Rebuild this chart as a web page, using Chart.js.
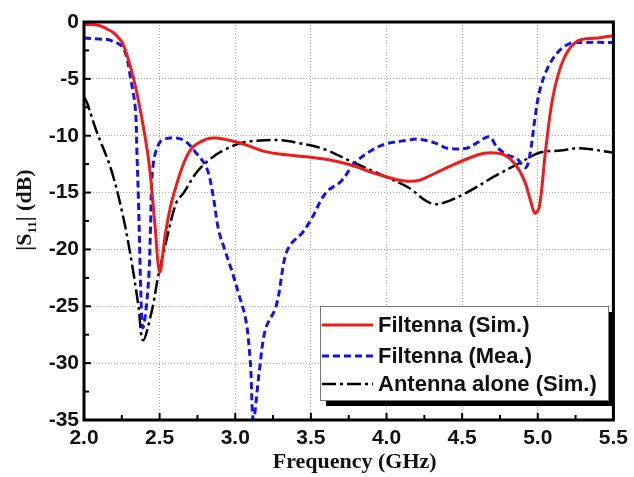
<!DOCTYPE html>
<html lang="en">
<head>
<meta charset="UTF-8">
<title>Filtenna |S11|</title>
<script src="https://cdn.jsdelivr.net/npm/chart.js"></script>
<style>
  html, body { margin: 0; padding: 0; background: #fff; }
  #wrap { width: 634px; height: 477px; }
</style>
</head>
<body>
<div id="wrap"><canvas id="s11Chart" width="634" height="477"></canvas></div>
<script>
// frequency (GHz) / |S11| (dB) samples for each curve
const simFreq = [2.0, 2.1, 2.15, 2.2, 2.26, 2.33, 2.38, 2.43, 2.47, 2.5, 2.54, 2.58, 2.66, 2.72, 2.81, 2.87,
  2.96, 3.07, 3.2, 3.35, 3.5, 3.65, 3.77, 3.92, 4.05, 4.14, 4.22, 4.4, 4.6, 4.69, 4.78, 4.85, 4.91, 4.95,
  4.98, 5.01, 5.05, 5.1, 5.17, 5.26, 5.4, 5.5];
const simS11 = [-0.2, -0.3, -0.6, -1.0, -2.0, -5.1, -8.3, -12.4, -18.0, -22.0, -18.5, -15.8, -12.4, -11.0, -10.3, -10.2,
  -10.4, -10.8, -11.4, -11.7, -11.9, -12.2, -12.6, -13.3, -13.8, -14.0, -13.9, -12.8, -11.7, -11.5, -11.7, -12.5, -13.9, -15.6,
  -16.8, -16.3, -11.5, -6.6, -3.3, -1.7, -1.4, -1.2];

const meaFreq = [2.0, 2.1, 2.17, 2.26, 2.31, 2.34, 2.35, 2.36, 2.38, 2.39, 2.41, 2.43, 2.44, 2.455, 2.5, 2.57,
  2.66, 2.74, 2.81, 2.85, 2.89, 2.93, 2.98, 3.02, 3.07, 3.1, 3.12, 3.16, 3.2, 3.27, 3.33, 3.37, 3.44, 3.5, 3.6,
  3.7, 3.79, 3.9, 4.0, 4.14, 4.2, 4.29, 4.35, 4.4, 4.53, 4.6, 4.68, 4.73, 4.8, 4.86, 4.92, 4.95, 4.98,
  5.01, 5.06, 5.13, 5.21, 5.3, 5.5];
const meaS11 = [-1.4, -1.5, -1.6, -2.3, -5.1, -7.7, -11.5, -15.7, -25.6, -26.9, -25.3, -22.0, -18.0, -12.8, -10.6, -10.2,
  -10.4, -11.5, -12.8, -15.0, -18.3, -20.0, -22.0, -23.8, -26.2, -30.0, -35.0, -30.6, -27.0, -25.0, -20.6, -19.5, -18.6, -17.4, -15.0,
  -14.0, -12.4, -11.3, -10.7, -10.4, -10.3, -10.5, -10.8, -11.1, -11.1, -10.6, -10.1, -11.0, -11.7, -12.0, -12.8, -11.5, -8.6,
  -6.2, -4.2, -2.7, -1.9, -1.8, -1.8];

const antFreq = [2.0, 2.02, 2.08, 2.18, 2.26, 2.32, 2.36, 2.39, 2.45, 2.49, 2.55, 2.61, 2.66, 2.74, 2.83, 2.92,
  3.05, 3.2, 3.3, 3.4, 3.57, 3.79, 4.01, 4.15, 4.27, 4.35, 4.53, 4.71, 4.88, 5.01, 5.15, 5.28, 5.5];
const antS11 = [-6.6, -7.1, -9.5, -13.0, -17.2, -21.5, -25.0, -28.0, -25.3, -22.4, -18.9, -15.9, -15.0, -13.3, -12.1, -11.3,
  -10.6, -10.4, -10.4, -10.6, -11.1, -12.4, -13.7, -14.6, -15.8, -16.0, -15.0, -13.6, -12.4, -11.5, -11.3, -11.1, -11.5];

const seriesNames = ['Filtenna (Sim.)', 'Filtenna (Mea.)', 'Antenna alone (Sim.)'];
const xTicks = [2.0, 2.5, 3.0, 3.5, 4.0, 4.5, 5.0, 5.5];
const yTicks = [0, -5, -10, -15, -20, -25, -30, -35];

const SANS = '"Liberation Sans", Arial, sans-serif';
const SERIF = '"Liberation Serif", "Times New Roman", serif';

const toPoints = (xs, ys) => xs.map((f, i) => ({ x: f, y: ys[i] }));

const styles = [
  { color: '#ee1c1c', width: 3, dash: [] },
  { color: '#1414e6', width: 3, dash: [7, 4] },
  { color: '#000000', width: 2.5, dash: [14, 4, 3, 4] }
];

// frame, inward ticks, axis titles and the boxed legend
const decorations = {
  id: 'decorations',
  afterDraw(chart) {
    const { ctx, chartArea: a, scales: { x, y } } = chart;
    ctx.save();

    ctx.strokeStyle = '#000';
    ctx.lineWidth = 2;
    ctx.setLineDash([]);
    for (let i = 0; i < xTicks.length; i++) {
      const px = x.getPixelForValue(xTicks[i]);
      ctx.beginPath(); ctx.moveTo(px, a.bottom); ctx.lineTo(px, a.bottom - 7); ctx.stroke();
      if (i < xTicks.length - 1) {
        const mx = x.getPixelForValue((xTicks[i] + xTicks[i + 1]) / 2);
        ctx.beginPath(); ctx.moveTo(mx, a.bottom); ctx.lineTo(mx, a.bottom - 5); ctx.stroke();
      }
    }
    for (let i = 0; i < yTicks.length; i++) {
      const py = y.getPixelForValue(yTicks[i]);
      ctx.beginPath(); ctx.moveTo(a.left, py); ctx.lineTo(a.left + 7, py); ctx.stroke();
      if (i < yTicks.length - 1) {
        const my = y.getPixelForValue((yTicks[i] + yTicks[i + 1]) / 2);
        ctx.beginPath(); ctx.moveTo(a.left, my); ctx.lineTo(a.left + 5, my); ctx.stroke();
      }
    }

    ctx.lineWidth = 3;
    ctx.strokeRect(a.left, a.top, a.right - a.left, a.bottom - a.top);

    // x title
    ctx.fillStyle = '#111';
    ctx.font = 'bold 22px ' + SERIF;
    ctx.textAlign = 'center';
    ctx.textBaseline = 'alphabetic';
    ctx.fillText('Frequency (GHz)', (a.left + a.right) / 2 + 6, 468);

    // y title with subscript, rotated
    ctx.save();
    ctx.translate(31, 210);
    ctx.rotate(-Math.PI / 2);
    ctx.textAlign = 'left';
    const big = 'bold 22px ' + SERIF, small = 'bold 13px ' + SERIF;
    ctx.font = big; const w1 = ctx.measureText('|S').width;
    ctx.font = small; const w2 = ctx.measureText('11').width;
    ctx.font = big; const w3 = ctx.measureText('| (dB)').width;
    let cx = -(w1 + w2 + w3) / 2;
    ctx.font = big; ctx.fillText('|S', cx, 0); cx += w1;
    ctx.font = small; ctx.fillText('11', cx, 5); cx += w2;
    ctx.font = big; ctx.fillText('| (dB)', cx, 0);
    ctx.restore();

    // legend box with drop shadow
    const bx = 320, by = 306, bw = 288, bh = 94;
    ctx.fillStyle = '#000';
    ctx.fillRect(bx + 6, by + 6, bw, bh);
    ctx.fillStyle = '#fff';
    ctx.fillRect(bx, by, bw, bh);
    ctx.strokeStyle = '#777';
    ctx.lineWidth = 1;
    ctx.strokeRect(bx + 0.5, by + 0.5, bw, bh);

    const rows = [325, 356, 384];
    ctx.font = 'bold 22px ' + SANS;
    ctx.textBaseline = 'middle';
    ctx.textAlign = 'left';
    chart.data.datasets.forEach((ds, i) => {
      ctx.strokeStyle = ds.borderColor;
      ctx.lineWidth = ds.borderWidth;
      ctx.setLineDash(ds.borderDash);
      ctx.beginPath(); ctx.moveTo(bx + 2, rows[i]); ctx.lineTo(bx + 53, rows[i]); ctx.stroke();
      ctx.setLineDash([]);
      ctx.fillStyle = '#111';
      ctx.fillText(ds.label, bx + 58, rows[i] + 1);
    });

    ctx.restore();
  }
};

new Chart(document.getElementById('s11Chart'), {
  type: 'line',
  data: {
    datasets: [
      { label: seriesNames[0], data: toPoints(simFreq, simS11) },
      { label: seriesNames[1], data: toPoints(meaFreq, meaS11) },
      { label: seriesNames[2], data: toPoints(antFreq, antS11) }
    ].map((d, i) => Object.assign(d, {
      borderColor: styles[i].color,
      borderWidth: styles[i].width,
      borderDash: styles[i].dash,
      pointRadius: 0,
      fill: false,
      tension: 0.35
    }))
  },
  options: {
    responsive: false,
    animation: false,
    layout: { padding: { top: 22, right: 17, left: 0, bottom: 0 } },
    plugins: { legend: { display: false }, tooltip: { enabled: false } },
    scales: {
      x: {
        type: 'linear', min: 2.0, max: 5.5,
        afterFit: s => { s.height = 57; },
        afterBuildTicks: s => { s.ticks = xTicks.map(v => ({ value: v })); },
        ticks: {
          padding: 6, color: '#111', font: { family: SANS, size: 21, weight: 'bold' },
          maxRotation: 0, callback: v => v.toFixed(1)
        },
        grid: { color: '#a8a8a8', lineWidth: 1, drawTicks: false },
        border: { display: false, dash: [1, 2] }
      },
      y: {
        min: -35, max: 0,
        afterFit: s => { s.width = 84; },
        afterBuildTicks: s => { s.ticks = yTicks.map(v => ({ value: v })); },
        ticks: {
          padding: 5, color: '#111', font: { family: SANS, size: 21, weight: 'bold' },
          callback: v => String(v)
        },
        grid: { color: '#a8a8a8', lineWidth: 1, drawTicks: false },
        border: { display: false, dash: [1, 2] }
      }
    }
  },
  plugins: [decorations]
});
</script>
</body>
</html>
